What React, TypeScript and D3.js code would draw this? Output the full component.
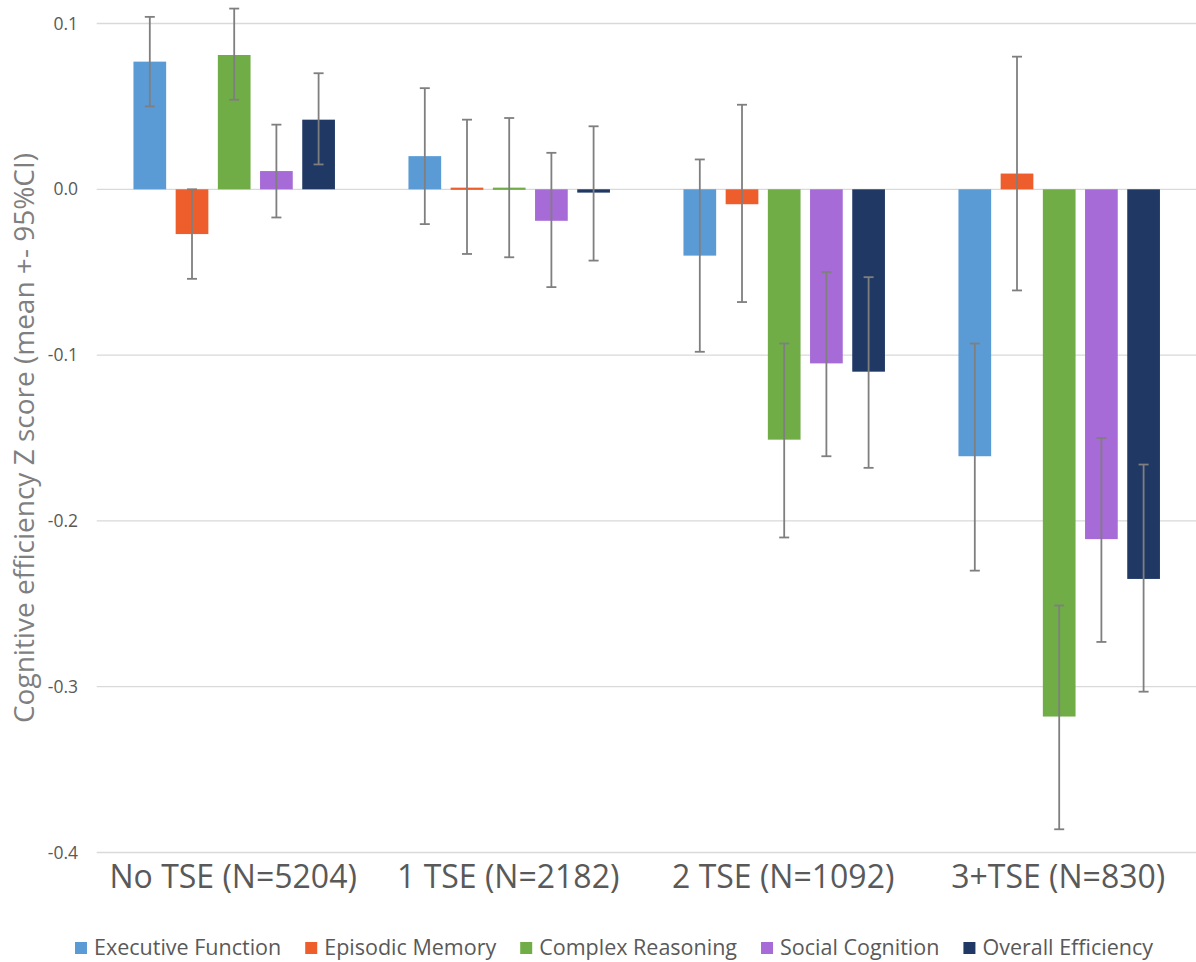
import React, { useEffect, useRef } from "react";
import * as d3 from "d3";

const categories = ["No TSE (N=5204)", "1 TSE (N=2182)", "2 TSE (N=1092)", "3+TSE (N=830)"];
const seriesNames = ["Executive Function", "Episodic Memory", "Complex Reasoning", "Social Cognition", "Overall Efficiency"];
const seriesColors = ["#5B9BD5", "#EE5E2C", "#70AD47", "#A66BD6", "#1F3864"];

const executiveMean = [0.077, 0.020, -0.040, -0.161];
const executiveLow = [0.050, -0.021, -0.098, -0.230];
const executiveHigh = [0.104, 0.061, 0.018, -0.093];

const episodicMean = [-0.027, 0.001, -0.009, 0.0095];
const episodicLow = [-0.054, -0.039, -0.068, -0.061];
const episodicHigh = [0.000, 0.042, 0.051, 0.080];

const complexMean = [0.081, 0.001, -0.151, -0.318];
const complexLow = [0.054, -0.041, -0.210, -0.386];
const complexHigh = [0.109, 0.043, -0.093, -0.251];

const socialMean = [0.011, -0.019, -0.105, -0.211];
const socialLow = [-0.017, -0.059, -0.161, -0.273];
const socialHigh = [0.039, 0.022, -0.050, -0.150];

const overallMean = [0.042, -0.002, -0.110, -0.235];
const overallLow = [0.015, -0.043, -0.168, -0.303];
const overallHigh = [0.070, 0.038, -0.053, -0.166];

const yTicks = [0.1, 0.0, -0.1, -0.2, -0.3, -0.4];
const yTitle = "Cognitive efficiency Z score (mean +- 95%CI)";

const means = [executiveMean, episodicMean, complexMean, socialMean, overallMean];
const lows = [executiveLow, episodicLow, complexLow, socialLow, overallLow];
const highs = [executiveHigh, episodicHigh, complexHigh, socialHigh, overallHigh];

const W = 1196;
const H = 962;
const FONT = "'Open Sans', 'DejaVu Sans', sans-serif";

export default function App() {
  const ref = useRef<SVGSVGElement>(null);

  useEffect(() => {
    const svg = d3.select(ref.current);
    svg.selectAll("*").remove();

    const plotLeft = 96.7;
    const plotRight = 1196.7;
    const y = d3.scaleLinear().domain([-0.4, 0.1]).range([852.5, 23.5]);
    const x0 = d3.scaleBand<string>().domain(categories).range([plotLeft, plotRight]).paddingInner(0).paddingOuter(0);
    const x1 = d3.scaleBand<string>().domain(seriesNames).range([0, x0.bandwidth()]).paddingInner(0.225).paddingOuter(0.871);

    // gridlines
    svg.append("g").selectAll("line").data(yTicks).join("line")
      .attr("x1", plotLeft).attr("x2", W)
      .attr("y1", (d) => y(d)).attr("y2", (d) => y(d))
      .attr("stroke", "#d9d9d9").attr("stroke-width", 1.3);

    // y tick labels
    svg.append("g").selectAll("text").data(yTicks).join("text")
      .attr("x", 78).attr("y", (d) => y(d)).attr("dy", "0.35em")
      .attr("text-anchor", "end")
      .attr("font-family", FONT).attr("font-size", 17.5).attr("fill", "#595959")
      .text((d) => d3.format(".1f")(d).replace("−", "-"));

    // bars
    const rows: { s: number; c: number }[] = [];
    seriesNames.forEach((_, s) => categories.forEach((_, c) => rows.push({ s, c })));

    svg.append("g").selectAll("rect").data(rows).join("rect")
      .attr("x", (d) => (x0(categories[d.c]) as number) + (x1(seriesNames[d.s]) as number))
      .attr("width", x1.bandwidth())
      .attr("y", (d) => Math.min(y(means[d.s][d.c]), y(0)))
      .attr("height", (d) => Math.max(Math.abs(y(means[d.s][d.c]) - y(0)), 2.2))
      .attr("fill", (d) => seriesColors[d.s]);

    // error bars
    const eb = svg.append("g").attr("stroke", "#7f7f7f").attr("stroke-width", 1.8);
    const cx = (d: { s: number; c: number }) =>
      (x0(categories[d.c]) as number) + (x1(seriesNames[d.s]) as number) + x1.bandwidth() / 2;
    eb.selectAll("line.v").data(rows).join("line").attr("class", "v")
      .attr("x1", cx).attr("x2", cx)
      .attr("y1", (d) => y(highs[d.s][d.c])).attr("y2", (d) => y(lows[d.s][d.c]));
    eb.selectAll("line.hi").data(rows).join("line").attr("class", "hi")
      .attr("x1", (d) => cx(d) - 5).attr("x2", (d) => cx(d) + 5)
      .attr("y1", (d) => y(highs[d.s][d.c])).attr("y2", (d) => y(highs[d.s][d.c]));
    eb.selectAll("line.lo").data(rows).join("line").attr("class", "lo")
      .attr("x1", (d) => cx(d) - 5).attr("x2", (d) => cx(d) + 5)
      .attr("y1", (d) => y(lows[d.s][d.c])).attr("y2", (d) => y(lows[d.s][d.c]));

    // category labels
    svg.append("g").selectAll("text").data(categories).join("text")
      .attr("x", (d) => (x0(d) as number) + x0.bandwidth() / 2 - 1)
      .attr("y", 888)
      .attr("text-anchor", "middle")
      .attr("font-family", FONT).attr("font-size", 32).attr("fill", "#595959")
      .text((d) => d);

    // y title
    svg.append("text")
      .attr("transform", `translate(34, ${(y(0.1) + y(-0.4)) / 2}) rotate(-90)`)
      .attr("text-anchor", "middle")
      .attr("font-family", FONT).attr("font-size", 28).attr("fill", "#7f7f7f")
      .text(yTitle);

    // legend
    const lg = svg.append("g");
    const items = lg.selectAll("g").data(seriesNames).join("g");
    items.append("rect").attr("width", 12).attr("height", 12).attr("y", -13)
      .attr("fill", (_, i) => seriesColors[i]);
    items.append("text").attr("x", 19).attr("y", 0)
      .attr("font-family", FONT).attr("font-size", 21.5).attr("fill", "#595959")
      .text((d) => d);
    const widths: number[] = [];
    items.each(function () {
      const t = d3.select(this).select("text").node() as SVGTextElement;
      widths.push(19 + t.getComputedTextLength());
    });
    const gap = 24;
    const total = d3.sum(widths) + gap * (widths.length - 1);
    let cur = 614 - total / 2;
    items.attr("transform", (_, i) => {
      const tx = cur;
      cur += widths[i] + gap;
      return `translate(${tx}, 955)`;
    });
  }, []);

  return (
    <svg ref={ref} width={W} height={H} style={{ display: "block", position: "absolute", left: 0, top: 0, background: "#fff" }} />
  );
}
